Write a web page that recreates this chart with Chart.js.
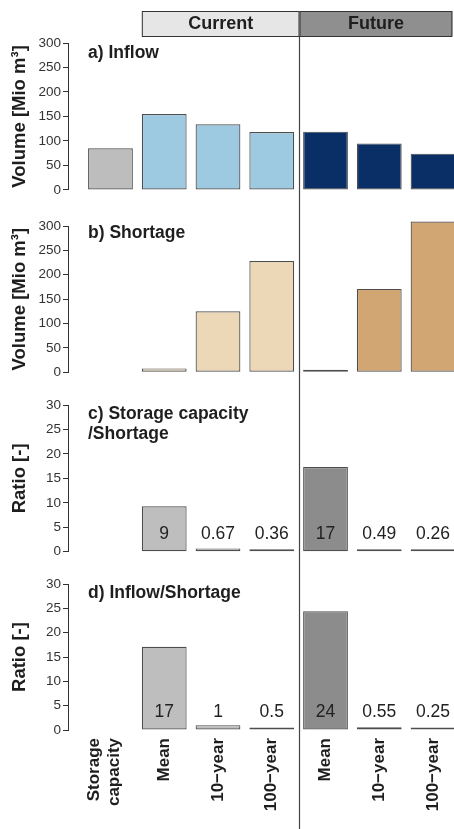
<!DOCTYPE html>
<html>
<head>
<meta charset="utf-8">
<script src="https://cdn.jsdelivr.net/npm/chart.js@4.4.0/dist/chart.umd.min.js"></script>
<style>
  html, body { margin: 0; padding: 0; background: #fff; overflow: hidden; }
  #wrap { position: relative; width: 454px; height: 829px; }
  canvas { position: absolute; left: 0; }
</style>
</head>
<body>
<div id="wrap">
  <canvas id="panelA" width="454" height="200" style="top:0px"></canvas>
  <canvas id="panelB" width="454" height="185" style="top:200px"></canvas>
  <canvas id="panelC" width="454" height="180" style="top:385px"></canvas>
  <canvas id="panelD" width="454" height="264" style="top:565px"></canvas>
</div>
<script>
// Data
const categories = ['Storage capacity', 'Mean', '10\u2212year', '100\u2212year', 'Mean', '10\u2212year', '100\u2212year'];
const tickLabels = [['Storage', 'capacity'], 'Mean', '10\u2212year', '100\u2212year', 'Mean', '10\u2212year', '100\u2212year'];
const groups = ['Current', 'Future'];

const inflow = [85, 155, 134, 118, 119, 95, 74];              // Mio m3
const shortage = [null, 8, 125, 228, 4, 171, 309];             // Mio m3
const storageRatio = [null, 9.3, 0.67, 0.36, 17.3, 0.49, 0.26];
const storageRatioText = ['', '9', '0.67', '0.36', '17', '0.49', '0.26'];
const inflowRatio = [null, 17.1, 1, 0.5, 24.4, 0.55, 0.25];
const inflowRatioText = ['', '17', '1', '0.5', '24', '0.55', '0.25'];

// Styles
const FONT = 'Arial, "Liberation Sans", Helvetica, sans-serif';
const inflowColors = ['#bdbdbd', '#9ecae1', '#9ecae1', '#9ecae1', '#0a2e66', '#0a2e66', '#0a2e66'];
const shortageColors = ['#bdbdbd', '#ecd8b6', '#ecd8b6', '#ecd8b6', '#d2a672', '#d2a672', '#d2a672'];
const ratioColors = ['#bdbdbd', '#bebebe', '#bebebe', '#bebebe', '#8c8c8c', '#8c8c8c', '#8c8c8c'];

Chart.defaults.font.family = FONT;
Chart.defaults.color = '#333';

const X_MIN = -0.79, X_MAX = 6.39, SPLIT = 3.5;

// panel titles, value labels, group header and the current/future divider
const decor = {
  id: 'decor',
  afterDraw(chart, args, opts) {
    const { ctx, chartArea, scales: { x, y } } = chart;
    ctx.save();

    // divider line
    const sx = Math.round(x.getPixelForValue(SPLIT)) + 0.5;
    ctx.strokeStyle = '#444';
    ctx.lineWidth = 1.2;
    ctx.beginPath();
    ctx.moveTo(sx, opts.lineTop || 0);
    ctx.lineTo(sx, chart.height);
    ctx.stroke();

    // header boxes
    if (opts.header) {
      const edges = [x.getPixelForValue(0.583), sx, x.getPixelForValue(6.36)];
      const fills = ['#e6e6e6', '#8f8f8f'];
      groups.forEach((g, k) => {
        const l = edges[k], r = edges[k + 1];
        ctx.fillStyle = fills[k];
        ctx.fillRect(l, 11, r - l, 25);
        ctx.strokeStyle = '#333';
        ctx.lineWidth = 1;
        ctx.strokeRect(l + 0.5, 11.5, r - l - 1, 25);
        ctx.fillStyle = '#1e1e1e';
        ctx.font = 'bold 18px ' + FONT;
        ctx.textAlign = 'center';
        ctx.textBaseline = 'middle';
        ctx.fillText(g, (l + r) / 2, 24);
      });
    }

    // panel title
    ctx.fillStyle = '#1e1e1e';
    ctx.font = 'bold 17.5px ' + FONT;
    ctx.textAlign = 'left';
    ctx.textBaseline = 'middle';
    opts.title.forEach((line, k) => {
      ctx.fillText(line, chartArea.left + 20, chartArea.top + opts.titleY + k * 20);
    });

    // value labels
    if (opts.labels) {
      ctx.font = '17.5px ' + FONT;
      ctx.textAlign = 'center';
      ctx.fillStyle = '#222';
      const base = y.getPixelForValue(0);
      opts.labels.forEach((t, i) => {
        if (t) ctx.fillText(t, x.getPixelForValue(i), base - 18);
      });
    }
    ctx.restore();
  }
};

function panel(id, cfg) {
  const showX = !!cfg.xLabels;
  return new Chart(document.getElementById(id), {
    type: 'bar',
    data: {
      datasets: [{
        data: cfg.values.map((v, i) => ({ x: i, y: v })),
        backgroundColor: cfg.colors,
        borderColor: '#4d4d4d',
        borderWidth: 1.2,
        borderSkipped: false,
        minBarLength: 2.5,
        categoryPercentage: 1,
        barPercentage: 0.833,
        clip: false
      }]
    },
    options: {
      responsive: false,
      animation: false,
      layout: { padding: cfg.padding },
      plugins: {
        legend: { display: false },
        tooltip: { enabled: false },
        decor: cfg.decor
      },
      scales: {
        x: {
          type: 'linear',
          min: X_MIN,
          max: X_MAX,
          offset: false,
          display: showX,
          afterBuildTicks(s) {
            // one tick per bar; the two-line label is nudged left to sit centred
            s.ticks = categories.map((c, i) => ({ value: Array.isArray(tickLabels[i]) ? i - 0.3 : i }));
          },
          afterFit(s) {
            if (showX) s.height = cfg.xHeight;
            s.paddingLeft = 0;
            s.paddingRight = 0;
          },
          grid: { display: false, drawTicks: false, offset: false },
          border: { display: false },
          ticks: {
            autoSkip: false,
            minRotation: 90,
            maxRotation: 90,
            padding: 8,
            color: '#1e1e1e',
            font: { size: 17, weight: 'bold' },
            callback: (v, i) => tickLabels[i]
          }
        },
        y: {
          min: 0,
          max: cfg.max,
          afterFit(s) { s.width = 68; },
          grid: { drawOnChartArea: false, tickLength: 5, color: '#333' },
          border: { color: '#333', width: 1 },
          ticks: { stepSize: cfg.max / 6, padding: 2, color: '#333', font: { size: 13.5 } },
          title: {
            display: true,
            text: cfg.yTitle,
            color: '#1e1e1e',
            font: { size: 18.5, weight: 'bold' },
            padding: { top: 9, bottom: 0 }
          }
        }
      }
    },
    plugins: [decor]
  });
}

panel('panelA', {
  values: inflow, colors: inflowColors, max: 300, yTitle: 'Volume [Mio m\u00b3]',
  padding: { top: 43, bottom: 10, left: 0, right: 0 },
  decor: { title: ['a) Inflow'], titleY: 10, header: true, lineTop: 36 }
});
panel('panelB', {
  values: shortage, colors: shortageColors, max: 300, yTitle: 'Volume [Mio m\u00b3]',
  padding: { top: 26, bottom: 12.7, left: 0, right: 0 },
  decor: { title: ['b) Shortage'], titleY: 7 }
});
panel('panelC', {
  values: storageRatio, colors: ratioColors, max: 30, yTitle: 'Ratio [-]',
  padding: { top: 20, bottom: 13.3, left: 0, right: 0 },
  decor: { title: ['c) Storage capacity', '/Shortage'], titleY: 9, labels: storageRatioText }
});
panel('panelD', {
  values: inflowRatio, colors: ratioColors, max: 30, yTitle: 'Ratio [-]',
  padding: { top: 19, bottom: 0, left: 0, right: 0 },
  xLabels: true, xHeight: 99,
  decor: { title: ['d) Inflow/Shortage'], titleY: 9, labels: inflowRatioText }
});
</script>
</body>
</html>
